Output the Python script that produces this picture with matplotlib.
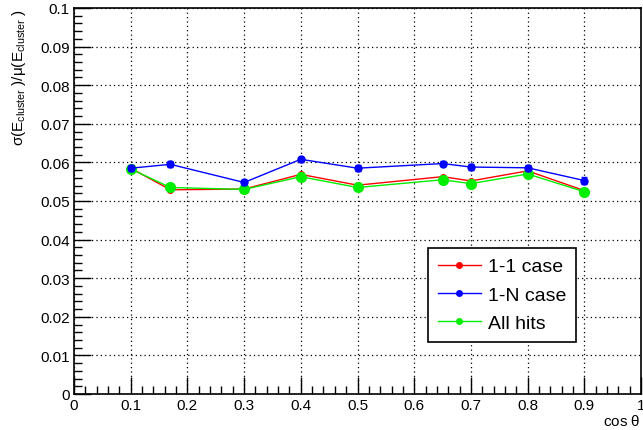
import matplotlib
matplotlib.use("Agg")
import matplotlib.pyplot as plt
from matplotlib.lines import Line2D
from matplotlib.ticker import FixedLocator, MultipleLocator

plt.rcParams['font.family'] = ['Liberation Sans', 'DejaVu Sans']
plt.rcParams['mathtext.fontset'] = 'custom'
plt.rcParams['mathtext.rm'] = 'Liberation Sans'
plt.rcParams['mathtext.it'] = 'Liberation Sans'
plt.rcParams['mathtext.sf'] = 'Liberation Sans'

cos_theta = [0.1, 0.17, 0.3, 0.4, 0.5, 0.65, 0.7, 0.8, 0.9]
res_11 = [0.0585, 0.0529, 0.0531, 0.0569, 0.0541, 0.0563, 0.0552, 0.0578, 0.0527]
err_11 = [0.0003] * 9
res_1n = [0.0585, 0.0595, 0.0548, 0.0608, 0.0585, 0.0597, 0.0588, 0.0586, 0.0553]
err_1n = [0.0007, 0.0008, 0.0007, 0.0006, 0.0007, 0.0007, 0.0008, 0.0008, 0.0009]
res_all = [0.0583, 0.0535, 0.0530, 0.0563, 0.0535, 0.0555, 0.0545, 0.0570, 0.0524]
err_all = [0.0002] * 9

x_ticks = [0, 0.1, 0.2, 0.3, 0.4, 0.5, 0.6, 0.7, 0.8, 0.9, 1.0]
x_labels = ['0', '0.1', '0.2', '0.3', '0.4', '0.5', '0.6', '0.7', '0.8', '0.9', '1']
y_ticks = [0, 0.01, 0.02, 0.03, 0.04, 0.05, 0.06, 0.07, 0.08, 0.09, 0.1]
y_labels = ['0', '0.01', '0.02', '0.03', '0.04', '0.05', '0.06', '0.07', '0.08', '0.09', '0.1']

series = [
    ('1-1 case', res_11, err_11, '#ff0000', 4),
    ('1-N case', res_1n, err_1n, '#0000ff', 5),
    ('All hits', res_all, err_all, '#00ee00', 7),
]

fig = plt.figure(figsize=(6.43, 4.31), dpi=100)
ax = fig.add_axes([74 / 643, 1 - 395 / 431, (641 - 74) / 643, (395 - 9) / 431])

handles = []
for i, (name, vals, errs, col, ms) in enumerate(series):
    ax.errorbar(cos_theta, vals, yerr=errs, color=col, marker='o', ms=ms,
                lw=1, capsize=2, elinewidth=1, zorder=4 if i == 1 else 3)
    handles.append(Line2D([], [], color=col, marker='o', ms=4, lw=1, label=name))

ax.set_xlim(0, 1)
ax.set_ylim(0, 0.1)
ax.set_xticks(x_ticks, x_labels)
ax.set_yticks(y_ticks, y_labels)
ax.xaxis.set_minor_locator(MultipleLocator(0.02))
ax.yaxis.set_minor_locator(MultipleLocator(0.002))
ax.tick_params(which='major', direction='in', length=12, width=1, labelsize=11,
               top=False, right=False, pad=3)
ax.tick_params(which='minor', direction='in', length=6, width=1, top=False, right=False)
ax.grid(True, which='major', color='black', linestyle=(0, (1, 2.5)), lw=0.9)
for s in ax.spines.values():
    s.set_linewidth(1.2)

ax.set_xlabel(r'cos $\theta$', fontsize=11, ha='right')
ax.xaxis.set_label_coords(1.0, -0.05)
ax.set_ylabel(r'$\sigma(\mathrm{E}_{\mathrm{cluster}}\ )/\mu(\mathrm{E}_{\mathrm{cluster}}\ )$',
              fontsize=11, ha='right')
ax.yaxis.set_label_coords(-0.082, 1.0)

leg = ax.legend(handles=handles, loc='upper left',
                bbox_to_anchor=((428 - 74) / 567, 1 - (249 - 9) / 386),
                fontsize=14, frameon=True, fancybox=False, edgecolor='black',
                framealpha=1, handlelength=2.2, borderpad=0.5, labelspacing=0.55,
                handletextpad=0.4, borderaxespad=0)
leg.get_frame().set_linewidth(1.2)

fig.savefig('out.png', dpi=100)
